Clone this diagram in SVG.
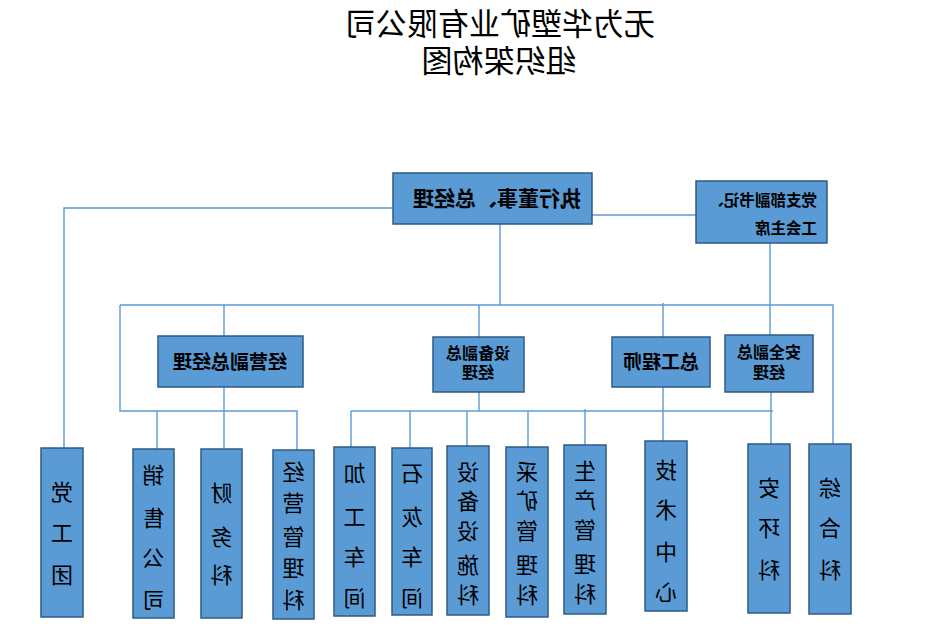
<svg xmlns="http://www.w3.org/2000/svg" width="940" height="626" viewBox="0 0 940 626">
<style>
.box{fill:#5B9BD5;stroke:#2E5B86;stroke-width:1.5}
.ln{fill:none;stroke:#5B9BD5;stroke-width:1.4}
text{font-family:"Noto Sans CJK SC","Noto Sans",sans-serif;fill:#000}
.t{font-size:31px}
.m{font-size:19px;font-weight:bold;text-anchor:middle}
.s{font-size:16px;font-weight:bold;text-anchor:middle}
.v{font-size:22px;text-anchor:middle}
</style>
<rect width="940" height="626" fill="#fff"/>
<g id="title">
<text class="t" text-anchor="middle" x="500" y="35" transform="matrix(-1 0 0 1 1000 0)">无为华塑矿业有限公司</text>
<text class="t" text-anchor="middle" x="499" y="72" transform="matrix(-1 0 0 1 998 0)">组织架构图</text>
</g>
<g id="connectors">
<path class="ln" d="M393,208 H64 V448"/>
<path class="ln" d="M592,215 H696"/>
<path class="ln" d="M500,224 V305"/>
<path class="ln" d="M120,305 H833 V444"/>
<path class="ln" d="M120,305 V411 H297 V450"/>
<path class="ln" d="M770,243 V335"/>
<path class="ln" d="M224,305 V336"/>
<path class="ln" d="M479,305 V337"/>
<path class="ln" d="M663,303 V337"/>
<path class="ln" d="M224,387 V449"/>
<path class="ln" d="M157,411 V449"/>
<path class="ln" d="M479,392 V411"/>
<path class="ln" d="M351,411 H773"/>
<path class="ln" d="M351,411 V447"/>
<path class="ln" d="M410,411 V448"/>
<path class="ln" d="M467,411 V446"/>
<path class="ln" d="M528,411 V447"/>
<path class="ln" d="M585,409 V445"/>
<path class="ln" d="M663,387 V442"/>
<path class="ln" d="M771,392 V444"/>
</g>
<g id="ceo">
<rect class="box" x="393" y="173" width="199" height="51"/>
<text x="497" y="206" font-size="21" font-weight="bold" text-anchor="middle" transform="matrix(-1 0 0 1 994 0)">执行董事、总经理</text>
</g>
<g id="party-secretary">
<rect class="box" x="696" y="181" width="131" height="62"/>
<text x="817" y="206" font-size="15.5" font-weight="bold" transform="matrix(-1 0 0 1 1634 0)">党支部副书记、</text>
<text x="817" y="234" font-size="15.5" font-weight="bold" transform="matrix(-1 0 0 1 1634 0)">工会主席</text>
</g>
<g id="vp-operations">
<rect class="box" x="158" y="336" width="145" height="51"/>
<text class="m" x="230" y="369" transform="matrix(-1 0 0 1 460 0)">经营副总经理</text>
</g>
<g id="vp-equipment">
<rect class="box" x="433" y="337" width="91" height="55"/>
<text class="s" x="478" y="359" transform="matrix(-1 0 0 1 956 0)">设备副总</text>
<text class="s" x="478" y="378" transform="matrix(-1 0 0 1 956 0)">经理</text>
</g>
<g id="chief-engineer">
<rect class="box" x="612" y="337" width="98" height="50"/>
<text class="m" x="661" y="369" transform="matrix(-1 0 0 1 1322 0)">总工程师</text>
</g>
<g id="vp-safety">
<rect class="box" x="725" y="335" width="88" height="57"/>
<text class="s" x="769" y="358" transform="matrix(-1 0 0 1 1538 0)">安全副总</text>
<text class="s" x="769" y="378" transform="matrix(-1 0 0 1 1538 0)">经理</text>
</g>
<g id="party-union">
<rect class="box" x="41" y="448" width="42" height="169"/>
<text class="v" transform="matrix(-1 0 0 1 124 0)"><tspan x="62" y="500">党</tspan><tspan x="62" y="541">工</tspan><tspan x="62" y="583">团</tspan></text>
</g>
<g id="sales">
<rect class="box" x="133" y="449" width="41" height="169"/>
<text class="v" transform="matrix(-1 0 0 1 307 0)"><tspan x="153.5" y="483">销</tspan><tspan x="153.5" y="526">售</tspan><tspan x="153.5" y="566">公</tspan><tspan x="153.5" y="608">司</tspan></text>
</g>
<g id="finance">
<rect class="box" x="201" y="449" width="41" height="169"/>
<text class="v" transform="matrix(-1 0 0 1 443 0)"><tspan x="221.5" y="501">财</tspan><tspan x="221.5" y="545">务</tspan><tspan x="221.5" y="583">科</tspan></text>
</g>
<g id="business-mgmt">
<rect class="box" x="273" y="450" width="41" height="169"/>
<text class="v" transform="matrix(-1 0 0 1 587 0)"><tspan x="293.5" y="480">经</tspan><tspan x="293.5" y="511">营</tspan><tspan x="293.5" y="545">管</tspan><tspan x="293.5" y="576">理</tspan><tspan x="293.5" y="608">科</tspan></text>
</g>
<g id="processing">
<rect class="box" x="334" y="447" width="41" height="169"/>
<text class="v" transform="matrix(-1 0 0 1 709 0)"><tspan x="354.5" y="481">加</tspan><tspan x="354.5" y="525">工</tspan><tspan x="354.5" y="565">车</tspan><tspan x="354.5" y="606">间</tspan></text>
</g>
<g id="lime">
<rect class="box" x="392" y="448" width="40" height="167"/>
<text class="v" transform="matrix(-1 0 0 1 824 0)"><tspan x="412" y="481">石</tspan><tspan x="412" y="525">灰</tspan><tspan x="412" y="565">车</tspan><tspan x="412" y="606">间</tspan></text>
</g>
<g id="equipment-facilities">
<rect class="box" x="447" y="446" width="42" height="169"/>
<text class="v" transform="matrix(-1 0 0 1 936 0)"><tspan x="468" y="480">设</tspan><tspan x="468" y="509">备</tspan><tspan x="468" y="539">设</tspan><tspan x="468" y="573">施</tspan><tspan x="468" y="603">科</tspan></text>
</g>
<g id="mining-mgmt">
<rect class="box" x="506" y="447" width="42" height="170"/>
<text class="v" transform="matrix(-1 0 0 1 1054 0)"><tspan x="527" y="480">采</tspan><tspan x="527" y="509">矿</tspan><tspan x="527" y="539">管</tspan><tspan x="527" y="573">理</tspan><tspan x="527" y="603">科</tspan></text>
</g>
<g id="production-mgmt">
<rect class="box" x="564" y="445" width="42" height="169"/>
<text class="v" transform="matrix(-1 0 0 1 1170 0)"><tspan x="585" y="479">生</tspan><tspan x="585" y="508">产</tspan><tspan x="585" y="538">管</tspan><tspan x="585" y="572">理</tspan><tspan x="585" y="602">科</tspan></text>
</g>
<g id="tech-center">
<rect class="box" x="645" y="441" width="42" height="170"/>
<text class="v" transform="matrix(-1 0 0 1 1332 0)"><tspan x="666" y="478">技</tspan><tspan x="666" y="518">术</tspan><tspan x="666" y="560">中</tspan><tspan x="666" y="600">心</tspan></text>
</g>
<g id="safety-env">
<rect class="box" x="748" y="444" width="42" height="169"/>
<text class="v" transform="matrix(-1 0 0 1 1538 0)"><tspan x="769" y="496">安</tspan><tspan x="769" y="536">环</tspan><tspan x="769" y="578">科</tspan></text>
</g>
<g id="general">
<rect class="box" x="809" y="444" width="42" height="170"/>
<text class="v" transform="matrix(-1 0 0 1 1660 0)"><tspan x="830" y="496">综</tspan><tspan x="830" y="536">合</tspan><tspan x="830" y="578">科</tspan></text>
</g>
</svg>
